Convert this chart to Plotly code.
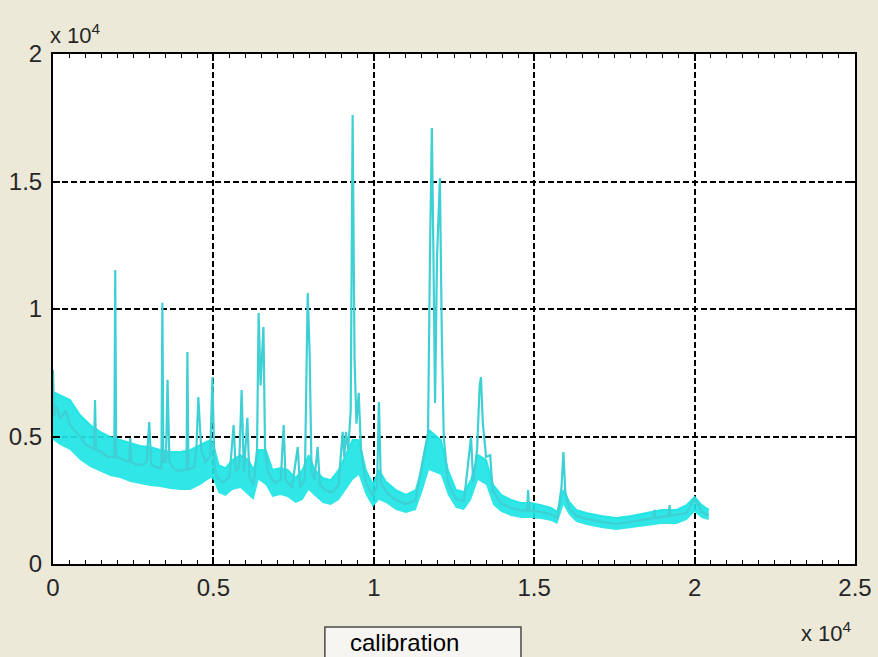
import plotly.graph_objects as go

# ---- data (x and y in units of 10^4, as shown on the axes) ----
band_x = [0.000, 0.022, 0.053, 0.084, 0.116, 0.147, 0.178, 0.209, 0.241, 0.272,
          0.303, 0.334, 0.366, 0.397, 0.428, 0.459, 0.491, 0.500, 0.516, 0.538,
          0.559, 0.584, 0.609, 0.625, 0.641, 0.663, 0.684, 0.709, 0.731, 0.756,
          0.778, 0.797, 0.816, 0.841, 0.866, 0.891, 0.913, 0.934, 0.953, 0.975,
          0.997, 1.016, 1.038, 1.069, 1.100, 1.131, 1.153, 1.172, 1.209, 1.231,
          1.256, 1.281, 1.303, 1.325, 1.350, 1.372, 1.397, 1.428, 1.459, 1.491,
          1.522, 1.553, 1.572, 1.591, 1.609, 1.631, 1.663, 1.709, 1.756, 1.803,
          1.850, 1.897, 1.944, 1.975, 2.000, 2.022, 2.044]
band_hi = [0.675, 0.663, 0.643, 0.584, 0.545, 0.518, 0.498, 0.486, 0.475, 0.463,
           0.459, 0.447, 0.439, 0.439, 0.447, 0.467, 0.486, 0.467, 0.388, 0.376,
           0.408, 0.427, 0.408, 0.369, 0.447, 0.447, 0.369, 0.376, 0.369, 0.337,
           0.369, 0.427, 0.369, 0.337, 0.329, 0.369, 0.427, 0.486, 0.486, 0.369,
           0.310, 0.369, 0.322, 0.290, 0.271, 0.290, 0.388, 0.525, 0.486, 0.369,
           0.290, 0.282, 0.329, 0.427, 0.408, 0.310, 0.271, 0.251, 0.239, 0.239,
           0.231, 0.220, 0.204, 0.290, 0.243, 0.212, 0.200, 0.188, 0.180, 0.188,
           0.200, 0.212, 0.212, 0.231, 0.263, 0.231, 0.212]
band_lo = [0.486, 0.467, 0.447, 0.408, 0.380, 0.361, 0.345, 0.337, 0.322, 0.314,
           0.306, 0.302, 0.294, 0.290, 0.290, 0.310, 0.337, 0.329, 0.278, 0.267,
           0.290, 0.298, 0.271, 0.251, 0.329, 0.310, 0.263, 0.271, 0.263, 0.239,
           0.251, 0.290, 0.267, 0.239, 0.231, 0.251, 0.290, 0.329, 0.349, 0.271,
           0.224, 0.251, 0.239, 0.212, 0.200, 0.212, 0.290, 0.369, 0.349, 0.271,
           0.220, 0.212, 0.251, 0.329, 0.310, 0.231, 0.204, 0.188, 0.180, 0.180,
           0.176, 0.169, 0.157, 0.231, 0.192, 0.165, 0.153, 0.141, 0.133, 0.141,
           0.149, 0.157, 0.157, 0.173, 0.204, 0.180, 0.173]

spec_x = [0.000, 0.003, 0.010, 0.022, 0.040, 0.053, 0.070, 0.084, 0.100, 0.116,
          0.128, 0.131, 0.134, 0.150, 0.170, 0.191, 0.194, 0.197, 0.215, 0.238,
          0.241, 0.244, 0.260, 0.280, 0.292, 0.300, 0.306, 0.320, 0.338, 0.341,
          0.344, 0.352, 0.357, 0.363, 0.380, 0.400, 0.416, 0.419, 0.422, 0.440,
          0.447, 0.453, 0.462, 0.475, 0.490, 0.497, 0.503, 0.510, 0.530, 0.550,
          0.563, 0.570, 0.580, 0.588, 0.595, 0.606, 0.612, 0.625, 0.636, 0.641,
          0.647, 0.656, 0.661, 0.670, 0.690, 0.710, 0.719, 0.725, 0.745, 0.763,
          0.770, 0.785, 0.794, 0.800, 0.806, 0.815, 0.825, 0.832, 0.850, 0.870,
          0.890, 0.903, 0.908, 0.913, 0.920, 0.928, 0.934, 0.940, 0.946, 0.953,
          0.960, 0.975, 0.995, 1.010, 1.016, 1.022, 1.040, 1.070, 1.100, 1.130,
          1.147, 1.160, 1.169, 1.175, 1.181, 1.186, 1.191, 1.197, 1.206, 1.212,
          1.218, 1.231, 1.256, 1.281, 1.303, 1.310, 1.322, 1.330, 1.334, 1.340,
          1.350, 1.363, 1.370, 1.397, 1.428, 1.459, 1.478, 1.481, 1.484, 1.522,
          1.553, 1.572, 1.585, 1.591, 1.597, 1.609, 1.631, 1.663, 1.709, 1.756,
          1.803, 1.850, 1.872, 1.875, 1.878, 1.897, 1.919, 1.922, 1.925, 1.975,
          2.000, 2.022, 2.044]
spec_y = [0.760, 0.580, 0.620, 0.570, 0.600, 0.545, 0.520, 0.500, 0.470, 0.460,
          0.450, 0.643, 0.450, 0.440, 0.420, 0.420, 1.153, 0.420, 0.410, 0.400,
          0.494, 0.400, 0.390, 0.390, 0.400, 0.557, 0.390, 0.380, 0.375, 1.024,
          0.400, 0.400, 0.722, 0.400, 0.370, 0.365, 0.370, 0.831, 0.370, 0.380,
          0.450, 0.655, 0.450, 0.400, 0.420, 0.733, 0.400, 0.340, 0.320, 0.340,
          0.545, 0.360, 0.380, 0.682, 0.360, 0.573, 0.340, 0.310, 0.450, 0.984,
          0.700, 0.929, 0.450, 0.360, 0.320, 0.330, 0.545, 0.330, 0.300, 0.459,
          0.300, 0.330, 1.063, 0.827, 0.360, 0.330, 0.459, 0.310, 0.290, 0.280,
          0.310, 0.518, 0.420, 0.518, 0.450, 0.600, 1.761, 0.800, 0.550, 0.671,
          0.450, 0.320, 0.270, 0.300, 0.635, 0.320, 0.280, 0.250, 0.235, 0.250,
          0.369, 0.450, 0.514, 1.200, 1.710, 1.200, 0.631, 1.200, 1.514, 0.900,
          0.500, 0.320, 0.255, 0.247, 0.498, 0.320, 0.450, 0.700, 0.733, 0.550,
          0.420, 0.427, 0.290, 0.237, 0.220, 0.210, 0.210, 0.290, 0.210, 0.204,
          0.195, 0.180, 0.300, 0.439, 0.280, 0.218, 0.190, 0.177, 0.165, 0.157,
          0.165, 0.175, 0.180, 0.212, 0.180, 0.185, 0.190, 0.231, 0.190, 0.200,
          0.259, 0.205, 0.190]

x_ticks = [0, 0.5, 1, 1.5, 2, 2.5]
x_tick_labels = ["0", "0.5", "1", "1.5", "2", "2.5"]
y_ticks = [0, 0.5, 1, 1.5, 2]
y_tick_labels = ["0", "0.5", "1", "1.5", "2"]
exponent_label = "x 10<sup>4</sup>"
button_label = "calibration"

FONT = "Liberation Sans, Arial, sans-serif"
BAND = "rgba(30,228,228,0.92)"
LINE = "rgb(62,208,212)"

fig = go.Figure()
fig.add_trace(go.Scatter(x=band_x, y=band_lo, mode="lines",
                         line=dict(width=0, color="rgba(0,0,0,0)"),
                         showlegend=False, hoverinfo="skip"))
fig.add_trace(go.Scatter(x=band_x, y=band_hi, mode="lines", fill="tonexty",
                         fillcolor=BAND, line=dict(width=2, color=BAND),
                         showlegend=False, hoverinfo="skip"))
fig.add_trace(go.Scatter(x=spec_x, y=spec_y, mode="lines",
                         line=dict(width=2.2, color=LINE), showlegend=False))

axis_common = dict(
    showline=True, linecolor="black", linewidth=2, mirror="allticks",
    ticks="inside", ticklen=7, tickwidth=1.5, tickcolor="black",
    showgrid=True, gridcolor="black", gridwidth=1.6, griddash="6px,3px",
    zeroline=False, automargin=False,
    tickfont=dict(family=FONT, size=24, color="#262626"),
)

fig.update_layout(
    width=878, height=657, autosize=False,
    margin=dict(l=53, r=23, t=54, b=93, pad=0),
    paper_bgcolor="#ECE9D8", plot_bgcolor="white",
    xaxis=dict(range=[0, 2.5], tickvals=x_ticks, ticktext=x_tick_labels,
               ticklabelstandoff=1,
               minor=dict(dtick=0.05, ticks="inside", ticklen=4,
                          tickcolor="black", tickwidth=1.2, showgrid=False),
               **axis_common),
    yaxis=dict(range=[0, 2], tickvals=y_ticks, ticktext=y_tick_labels,
               ticklabelstandoff=4, **axis_common),
    showlegend=False,
)

fig.add_annotation(xref="paper", yref="paper", x=-0.006, y=1.04,
                   xanchor="left", yanchor="middle", showarrow=False,
                   text=exponent_label,
                   font=dict(family=FONT, size=22, color="#262626"))
fig.add_annotation(xref="paper", yref="paper", x=0.999, y=-0.133,
                   xanchor="right", yanchor="middle", showarrow=False,
                   text=exponent_label,
                   font=dict(family=FONT, size=22, color="#262626"))

# calibration push-button
fig.add_shape(type="rect", xref="paper", yref="paper",
              x0=0.339, x1=0.5835, y0=-0.20, y1=-0.1235,
              line=dict(color="#4a4a4a", width=1.5), fillcolor="#F6F5F1",
              layer="above")
fig.add_annotation(xref="paper", yref="paper", x=0.368, y=-0.153,
                   xanchor="left", yanchor="middle", showarrow=False,
                   text=button_label,
                   font=dict(family=FONT, size=24, color="black"))

fig.write_html("out.html")
